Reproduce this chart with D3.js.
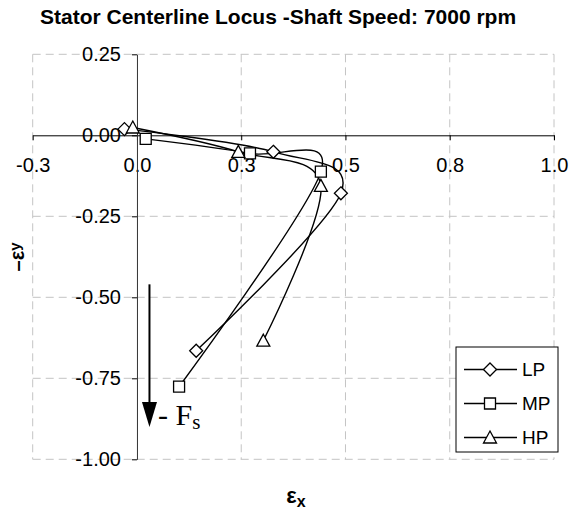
<!DOCTYPE html>
<html>
<head>
<meta charset="utf-8">
<script src="https://cdn.jsdelivr.net/npm/d3@7"></script>
<style>
  html, body { margin: 0; padding: 0; background: #fff; }
  svg { display: block; }
</style>
</head>
<body>
<svg id="chart" width="571" height="526"></svg>
<script>
// ---- data ----
const seriesNames = ["LP", "MP", "HP"];
const lpX = [-0.030, 0.327, 0.489, 0.142];
const lpY = [0.019, -0.051, -0.179, -0.665];
const mpX = [0.021, 0.271, 0.441, 0.101];
const mpY = [-0.011, -0.056, -0.112, -0.776];
const hpX = [-0.010, 0.243, 0.441, 0.303];
const hpY = [0.024, -0.051, -0.156, -0.634];
const xTickValues = [-0.25, 0, 0.25, 0.5, 0.75, 1.0];
const xTickLabels = ["-0.3", "0.0", "0.3", "0.5", "0.8", "1.0"];
const yTickValues = [0.25, 0, -0.25, -0.5, -0.75, -1.0];
const yTickLabels = ["0.25", "0.00", "-0.25", "-0.50", "-0.75", "-1.00"];
const arrowFrom = [0.030, -0.46];
const arrowTo = [0.030, -0.90];

const svg = d3.select("#chart");
const FONT = "'Liberation Sans', Arial, sans-serif";

const x = d3.scaleLinear().domain([-0.25, 1.0]).range([32.7, 554]);
const y = d3.scaleLinear().domain([-1.0, 0.25]).range([459.3, 54.3]);

// title
svg.append("text")
  .attr("x", 40).attr("y", 24)
  .attr("text-anchor", "start")
  .attr("font-family", FONT).attr("font-weight", "bold").attr("font-size", 21)
  .text("Stator Centerline Locus -Shaft Speed: 7000 rpm");

// grid
const grid = svg.append("g").attr("stroke", "#c4c4c4").attr("stroke-width", 1)
  .attr("stroke-dasharray", "8,5");
xTickValues.filter(v => v !== 0).forEach(v => {
  grid.append("line").attr("x1", x(v)).attr("x2", x(v)).attr("y1", y(0.25)).attr("y2", y(-1));
});
yTickValues.filter(v => v !== 0).forEach(v => {
  grid.append("line").attr("x1", x(-0.25)).attr("x2", x(1)).attr("y1", y(v)).attr("y2", y(v));
});

// axes
const xAxis = d3.axisBottom(x).tickValues(xTickValues)
  .tickFormat((d, i) => xTickLabels[i]).tickSize(5).tickPadding(18).tickSizeOuter(0);
const gx = svg.append("g").attr("transform", `translate(0,${y(0)})`).call(xAxis);
gx.select(".domain").attr("stroke", "#000");
gx.selectAll("text").attr("font-family", FONT).attr("font-size", 20).attr("fill", "#000");

const yAxis = d3.axisLeft(y).tickValues(yTickValues)
  .tickFormat((d, i) => yTickLabels[i]).tickSize(5).tickPadding(11).tickSizeOuter(0);
const gy = svg.append("g").attr("transform", `translate(${x(0)},0)`).call(yAxis);
gy.select(".domain").attr("stroke", "#333");
gy.selectAll("text").attr("font-family", FONT).attr("font-size", 20).attr("fill", "#000");

// axis titles
const yl = svg.append("text")
  .attr("transform", `translate(24,257) rotate(-90)`)
  .attr("text-anchor", "middle")
  .attr("font-family", FONT).attr("font-weight", "bold").attr("font-size", 20);
yl.append("tspan").text("\u2013\u03B5");
yl.append("tspan").attr("font-size", 15).attr("dy", -4).text("y");

const xl = svg.append("text")
  .attr("x", 296).attr("y", 503)
  .attr("text-anchor", "middle")
  .attr("font-family", FONT).attr("font-weight", "bold").attr("font-size", 22);
xl.append("tspan").text("\u03B5");
xl.append("tspan").attr("font-size", 16).attr("dy", 4).text("x");

// markers
function markerPath(kind) {
  if (kind === "LP") return "M0,-6.5L6.5,0L0,6.5L-6.5,0Z";
  if (kind === "MP") return "M-5.5,-5.5H5.5V5.5H-5.5Z";
  return "M0,-6.5L6.5,5.5H-6.5Z";
}

const series = [
  { name: seriesNames[0], xs: lpX, ys: lpY },
  { name: seriesNames[1], xs: mpX, ys: mpY },
  { name: seriesNames[2], xs: hpX, ys: hpY }
];

const line = d3.line().x(d => x(d[0])).y(d => y(d[1])).curve(d3.curveCardinal.tension(0));
series.forEach(s => {
  const pts = s.xs.map((v, i) => [v, s.ys[i]]);
  svg.append("path").attr("d", line(pts)).attr("fill", "none")
    .attr("stroke", "#000").attr("stroke-width", 1.4);
});
series.forEach(s => {
  s.xs.forEach((v, i) => {
    svg.append("path").attr("d", markerPath(s.name))
      .attr("transform", `translate(${x(v)},${y(s.ys[i])})`)
      .attr("fill", "#fff").attr("stroke", "#000").attr("stroke-width", 1.3);
  });
});

// force arrow annotation
const ax = x(arrowFrom[0]);
svg.append("line").attr("x1", ax).attr("x2", ax)
  .attr("y1", y(arrowFrom[1])).attr("y2", y(arrowTo[1]) - 20)
  .attr("stroke", "#000").attr("stroke-width", 2);
const tipY = y(arrowTo[1]);
svg.append("path")
  .attr("d", `M${ax - 7.5},${tipY - 25}L${ax + 7.5},${tipY - 25}L${ax},${tipY}Z`)
  .attr("fill", "#000");
const ft = svg.append("text").attr("x", 158).attr("y", 425)
  .attr("font-family", "'Liberation Serif', 'Times New Roman', serif").attr("font-size", 30);
ft.append("tspan").text("- F");
ft.append("tspan").attr("font-size", 21).attr("dy", 4).text("s");

// legend
const lg = svg.append("g");
lg.append("rect").attr("x", 456).attr("y", 347).attr("width", 102).attr("height", 105)
  .attr("fill", "#fff").attr("stroke", "#000").attr("stroke-width", 1);
seriesNames.forEach((n, i) => {
  const cy = 369.5 + i * 34;
  lg.append("line").attr("x1", 464).attr("x2", 517).attr("y1", cy).attr("y2", cy)
    .attr("stroke", "#000").attr("stroke-width", 1.4);
  lg.append("path").attr("d", markerPath(n)).attr("transform", `translate(490,${cy})`)
    .attr("fill", "#fff").attr("stroke", "#000").attr("stroke-width", 1.3);
  lg.append("text").attr("x", 522).attr("y", cy).attr("dy", "0.36em")
    .attr("font-family", FONT).attr("font-size", 19).text(n);
});
</script>
</body>
</html>
